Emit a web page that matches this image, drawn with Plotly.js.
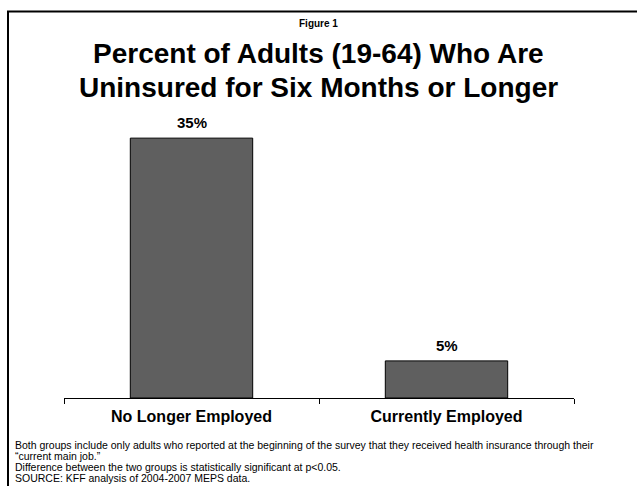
<!DOCTYPE html>
<html>
<head>
<meta charset="utf-8">
<script src="https://cdn.plot.ly/plotly-3.0.1.min.js"></script>
<style>html,body{margin:0;padding:0;background:#fff;}#chart{width:637px;height:486px;}</style>
</head>
<body>
<div id="chart"></div>
<script>
// Data
var categories = ["No Longer Employed", "Currently Employed"];
var values = [35, 5];
var valueLabels = ["35%", "5%"];
var figureLabel = "Figure 1";
var titleLines = ["Percent of Adults (19-64) Who Are", "Uninsured for Six Months or Longer"];
var footnotes = [
  "Both groups include only adults who reported at the beginning of the survey that they received health insurance through their",
  "\u201Ccurrent main job.\u201D",
  "Difference between the two groups is statistically significant at p<0.05.",
  "SOURCE: KFF analysis of 2004-2007 MEPS data."
];

var W = 637, H = 486;
var mL = 64, mR = 63, mT = 101, mB = 88;
var plotW = W - mL - mR, plotH = H - mT - mB;
function px(p) { return (p - mL) / plotW; }
function py(p) { return (H - mB - p) / plotH; }

var FONT = "Liberation Sans, Arial, Helvetica, sans-serif";

var annotations = [];
annotations.push({xref:'paper', yref:'paper', x:px(318.5), y:py(23), xanchor:'center', yanchor:'middle',
  text:'<b>' + figureLabel + '</b>', showarrow:false, font:{family:FONT, size:10, color:'#000'}});
var titleY = [53, 87];
titleLines.forEach(function(t, i) {
  annotations.push({xref:'paper', yref:'paper', x:px(318.5), y:py(titleY[i]), xanchor:'center', yanchor:'middle',
    text:'<b>' + t + '</b>', showarrow:false, font:{family:FONT, size:28, color:'#000'}});
});
categories.forEach(function(c, i) {
  annotations.push({x:c, y:values[i], xref:'x', yref:'y', xanchor:'center', yanchor:'bottom', yshift:5,
    text:'<b>' + valueLabels[i] + '</b>', showarrow:false, font:{family:FONT, size:15, color:'#000'}});
});
var footY = [445, 456, 467, 478];
footnotes.forEach(function(t, i) {
  annotations.push({xref:'paper', yref:'paper', x:px(14), y:py(footY[i]), xanchor:'left', yanchor:'middle',
    text:t, showarrow:false, borderpad:0, font:{family:FONT, size:10.5, color:'#000'}});
});

var trace = {
  type:'bar', x:categories, y:values,
  marker:{color:'#5f5f5f', line:{color:'#000', width:1}},
  hoverinfo:'none'
};

var layout = {
  width:W, height:H,
  margin:{l:mL, r:mR, t:mT, b:mB, pad:0},
  paper_bgcolor:'#fff', plot_bgcolor:'#fff',
  showlegend:false,
  bargap:0.52,
  xaxis:{type:'category', showline:true, linecolor:'#000', linewidth:1, ticks:'outside', tickson:'boundaries',
    ticklen:5, tickcolor:'#000', tickwidth:1, showgrid:false, zeroline:false,
    ticklabelstandoff:4,
    tickfont:{family:FONT, size:16, color:'#000', weight:'bold'}, fixedrange:true},
  yaxis:{range:[0, 40], visible:false, showgrid:false, zeroline:false, fixedrange:true},
  annotations:annotations,
  shapes:[{type:'rect', xref:'paper', yref:'paper', x0:px(8), x1:px(700), y0:py(560), y1:py(11.5),
    line:{color:'#000', width:2}, fillcolor:'rgba(0,0,0,0)', layer:'above'}]
};

Plotly.newPlot('chart', [trace], layout, {displayModeBar:false, staticPlot:true});
</script>
</body>
</html>
